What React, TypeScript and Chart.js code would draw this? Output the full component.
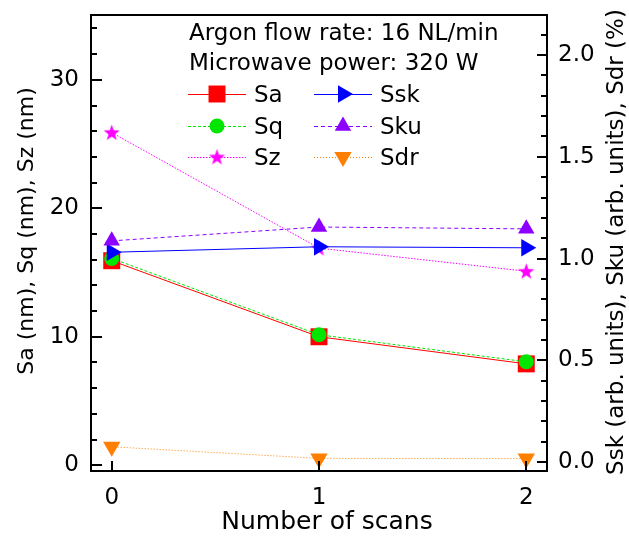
import React, { useEffect, useRef } from 'react';
import { Chart, registerables } from 'chart.js';
import { drawPoint } from 'chart.js/helpers';

Chart.register(...registerables);

// ---- data ----
const SCANS = [0, 1, 2];
const SA = [15.92, 10.0, 7.89];
const SQ = [16.1, 10.16, 8.05];
const SZ = [25.9, 16.9, 15.1];
const SSK = [1.031, 1.058, 1.053];
const SKU = [1.087, 1.155, 1.146];
const SDR = [0.075, 0.018, 0.017];

// ---- ticks ----
const X_TICKS = [0, 1, 2];
const LEFT_TICKS = [0, 10, 20, 30];
const RIGHT_TICKS = [0, 0.5, 1.0, 1.5, 2.0];

const INFO_LINES = ['Argon flow rate: 16 NL/min', 'Microwave power: 320 W'];
const X_TITLE = 'Number of scans';
const Y_TITLE = 'Sa (nm), Sq (nm), Sz (nm)';
const Y2_TITLE = 'Ssk (arb. units), Sku (arb. units), Sdr (%)';

const FONT = 'DejaVu Sans';

function makeStar(color: string, size: number) {
  const c = document.createElement('canvas');
  c.width = size;
  c.height = size;
  const g = c.getContext('2d')!;
  const cx = size / 2, cy = size / 2 + 0.6;
  const R = size / 2, r = R * 0.4;
  g.beginPath();
  for (let i = 0; i < 10; i++) {
    const rad = (Math.PI / 5) * i - Math.PI / 2;
    const rr = i % 2 === 0 ? R : r;
    const px = cx + Math.cos(rad) * rr, py = cy + Math.sin(rad) * rr;
    if (i === 0) g.moveTo(px, py); else g.lineTo(px, py);
  }
  g.closePath();
  g.fillStyle = color;
  g.fill();
  return c;
}

const pts = (ys: number[]) => SCANS.map((x, i) => ({ x, y: ys[i] }));

const framePlugin = {
  id: 'frameTicks',
  afterDatasetsDraw(chart: any) {
    const { ctx, chartArea: a, scales } = chart;
    ctx.save();
    ctx.strokeStyle = '#000';
    ctx.lineWidth = 2;
    ctx.beginPath();
    ctx.moveTo(a.left - 1, a.top);
    ctx.lineTo(a.right + 1, a.top);
    ctx.stroke();
    const line = (x1: number, y1: number, x2: number, y2: number) => {
      ctx.beginPath();
      ctx.moveTo(x1, y1);
      ctx.lineTo(x2, y2);
      ctx.stroke();
    };
    const y = scales.y;
    for (let v = 0; v <= y.max; v += 2) {
      const p = Math.round(y.getPixelForValue(v));
      const len = v % 10 === 0 ? 11 : 6;
      line(a.left, p, a.left + len, p);
    }
    const y2 = scales.y2;
    for (let k = 0; k / 10 <= y2.max; k++) {
      const p = Math.round(y2.getPixelForValue(k / 10));
      const len = k % 5 === 0 ? 10 : 6;
      line(a.right, p, a.right - len, p);
    }
    const x = scales.x;
    X_TICKS.forEach((v) => {
      const p = Math.round(x.getPixelForValue(v));
      line(p, a.bottom, p, a.bottom - 10);
    });
    ctx.restore();
  },
};

const textPlugin = {
  id: 'customText',
  afterDraw(chart: any) {
    const { ctx } = chart;
    ctx.save();
    ctx.fillStyle = '#000';
    ctx.font = `23px "${FONT}"`;
    ctx.textBaseline = 'alphabetic';
    ctx.textAlign = 'left';
    ctx.fillText(INFO_LINES[0], 189, 39.5);
    ctx.fillText(INFO_LINES[1], 189, 70);
    const colX = [188, 314];
    const rowY = [94, 126, 157];
    chart.data.datasets.forEach((ds: any, i: number) => {
      const col = Math.floor(i / 3);
      const row = i % 3;
      const x0 = colX[col];
      const yc = rowY[row];
      ctx.save();
      ctx.strokeStyle = ds.borderColor;
      ctx.lineWidth = ds.borderWidth;
      ctx.setLineDash(ds.borderDash || []);
      ctx.beginPath();
      ctx.moveTo(x0, yc + 0.5);
      ctx.lineTo(x0 + 58, yc + 0.5);
      ctx.stroke();
      ctx.setLineDash([]);
      ctx.fillStyle = ds.backgroundColor;
      ctx.strokeStyle = ds.backgroundColor;
      drawPoint(ctx, {
        pointStyle: ds.pointStyle,
        rotation: ds.pointRotation || 0,
        radius: ds.pointRadius,
        borderWidth: 0,
      } as any, x0 + 29, yc);
      ctx.restore();
      ctx.fillStyle = '#000';
      ctx.fillText(ds.label, x0 + 66, yc + 8);
    });

    // axis titles
    ctx.textAlign = 'center';
    ctx.textBaseline = 'middle';
    ctx.font = `25px "${FONT}"`;
    ctx.fillText(X_TITLE, 327, 522);

    ctx.font = `22px "${FONT}"`;
    ctx.save();
    ctx.translate(27, 231);
    ctx.rotate(-Math.PI / 2);
    ctx.fillText(Y_TITLE, 0, 0);
    ctx.restore();

    ctx.font = `23px "${FONT}"`;
    ctx.save();
    ctx.translate(617, 242);
    ctx.rotate(-Math.PI / 2);
    ctx.fillText(Y2_TITLE, 0, 0);
    ctx.restore();
    ctx.restore();
  },
};

const noPad = (s: any) => {
  s.paddingTop = 0;
  s.paddingBottom = 0;
  s.paddingLeft = 0;
  s.paddingRight = 0;
};

export default function App() {
  const ref = useRef<HTMLCanvasElement>(null);
  useEffect(() => {
    const star = makeStar('#ff00ff', 17);
    const tickFont = { family: FONT, size: 23 };
    const common = { borderWidth: 1, pointBorderWidth: 0, clip: false as any, showLine: true };
    const chart = new Chart(ref.current!, {
      type: 'scatter',
      data: {
        datasets: [
          { ...common, label: 'Sa', data: pts(SA), yAxisID: 'y', borderColor: '#ff0000', backgroundColor: '#ff0000', pointStyle: 'rect', pointRadius: 12, order: 6 },
          { ...common, label: 'Sq', data: pts(SQ), yAxisID: 'y', borderColor: '#00e600', backgroundColor: '#00e600', borderDash: [3, 2], pointStyle: 'circle', pointRadius: 7.5, order: 5 },
          { ...common, label: 'Sz', data: pts(SZ), yAxisID: 'y', borderColor: '#ff00ff', backgroundColor: '#ff00ff', borderDash: [1.5, 1.5], pointStyle: star, pointRadius: 8, order: 4 },
          { ...common, label: 'Ssk', data: pts(SSK), yAxisID: 'y2', borderColor: '#0000ff', backgroundColor: '#0000ff', pointStyle: 'triangle', pointRotation: 90, pointRadius: 10, order: 3 },
          { ...common, label: 'Sku', data: pts(SKU), yAxisID: 'y2', borderColor: '#8b00ff', backgroundColor: '#8b00ff', borderDash: [4, 3], pointStyle: 'triangle', pointRadius: 9.5, order: 2 },
          { ...common, label: 'Sdr', data: pts(SDR), yAxisID: 'y2', borderColor: '#ff8000', backgroundColor: '#ff8000', borderDash: [1, 2], pointStyle: 'triangle', pointRotation: 180, pointRadius: 10, order: 1 },
        ] as any,
      },
      options: {
        animation: false,
        responsive: true,
        maintainAspectRatio: false,
        layout: { padding: { top: 15, left: 0, right: 0, bottom: 0 } },
        plugins: { legend: { display: false }, tooltip: { enabled: false } },
        scales: {
          x: {
            type: 'linear',
            position: 'bottom',
            min: -0.1,
            max: 2.1,
            afterBuildTicks: (s: any) => { s.ticks = X_TICKS.map((v) => ({ value: v })); },
            afterFit: (s: any) => { s.height = 67; noPad(s); },
            grid: { display: false, drawTicks: false },
            border: { display: true, color: '#000', width: 2 },
            ticks: { font: tickFont, color: '#000', padding: 13, maxRotation: 0, autoSkip: false, callback: (v: any) => String(v) },
          },
          y: {
            type: 'linear',
            position: 'left',
            min: -0.45,
            max: 35.05,
            afterBuildTicks: (s: any) => { s.ticks = LEFT_TICKS.map((v) => ({ value: v })); },
            afterFit: (s: any) => { s.width = 91; noPad(s); },
            grid: { display: false, drawTicks: false },
            border: { display: true, color: '#000', width: 2 },
            ticks: { font: tickFont, color: '#000', padding: 12, callback: (v: any) => String(v) },
          },
          y2: {
            type: 'linear',
            position: 'right',
            min: -0.044,
            max: 2.197,
            afterBuildTicks: (s: any) => { s.ticks = RIGHT_TICKS.map((v) => ({ value: v })); },
            afterFit: (s: any) => { s.width = 82; noPad(s); },
            grid: { display: false, drawTicks: false },
            border: { display: true, color: '#000', width: 2 },
            ticks: { font: tickFont, color: '#000', padding: 11, callback: (v: any) => Number(v).toFixed(1) },
          },
        },
      } as any,
      plugins: [framePlugin, textPlugin],
    });
    return () => chart.destroy();
  }, []);
  return (
    <div style={{ position: 'fixed', left: 0, top: 0, width: 629, height: 538, background: '#fff' }}>
      <canvas ref={ref} />
    </div>
  );
}
